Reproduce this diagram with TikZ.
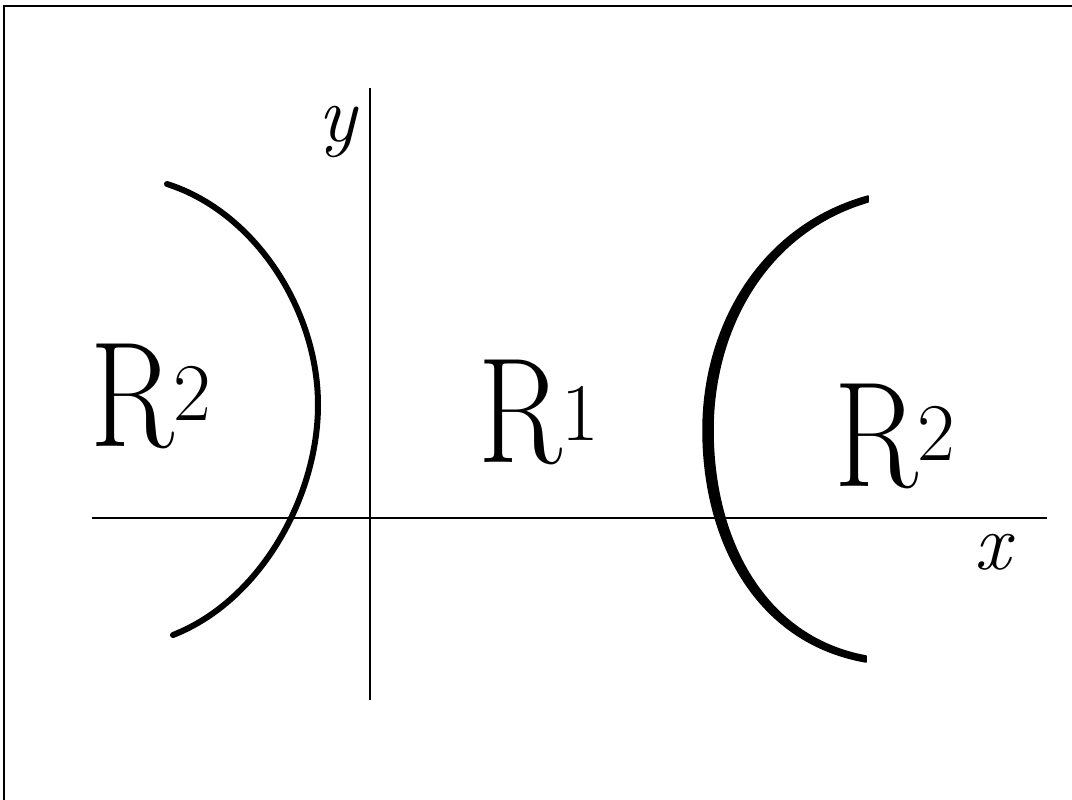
\documentclass[tikz,border=0pt]{standalone}
\usepackage{fontspec}
\begin{document}
\begin{tikzpicture}[x=1pt,y=-1pt,
  axis/.style={line width=2.2pt},
  curve/.style={line width=6pt,line cap=round,line join=round},
  thickcurve/.style={fill=black,draw=black,line width=1.5pt,line join=round},
  frame/.style={line width=2pt},
  lbl/.style={inner sep=0pt,anchor=base west},
  axlbl/.style={inner sep=0pt,font=\fontsize{80}{80}\selectfont\itshape}]
\newcommand{\bigR}[2]{\scalebox{0.82}[1]{\fontsize{150}{150}\selectfont R}\raisebox{#1}{\fontsize{82}{82}\selectfont #2}}
\useasboundingbox (0,0) rectangle (1072,800);
% frame
\draw[frame] (1072,6) -- (4,6) -- (4,800);
% axes
\coordinate (xa) at (92,518);
\coordinate (xb) at (1047,518);
\coordinate (ya) at (370,88);
\coordinate (yb) at (370,700);
\draw[axis] (xa) -- (xb);
\draw[axis] (ya) -- (yb);
% left hyperbola branch
\draw[curve] (167,184) .. controls (255,212) and (318,310) .. (318,405)
  .. controls (318,495) and (262,600) .. (173,635);
% right hyperbola branch (thicker in the middle)
\filldraw[thickcurve] (868,196) .. controls (757,227) and (703,330) .. (703,430)
  .. controls (703,542) and (757,643) .. (866,662)
  -- (866,656) .. controls (763,637) and (713,538) .. (713,430)
  .. controls (713,333) and (763,233) .. (868,202) -- cycle;
% labels
\node[lbl] (r2l) at (90,446) {\bigR{26pt}{2}};
\node[lbl] (r1) at (478,462) {\bigR{22pt}{1}};
\node[lbl] (r2r) at (834,486) {\bigR{26pt}{2}};
\node[axlbl] (ylab) at (337,132) {y};
\node[axlbl] (xlab) at (992,552) {x};
\end{tikzpicture}
\end{document}
